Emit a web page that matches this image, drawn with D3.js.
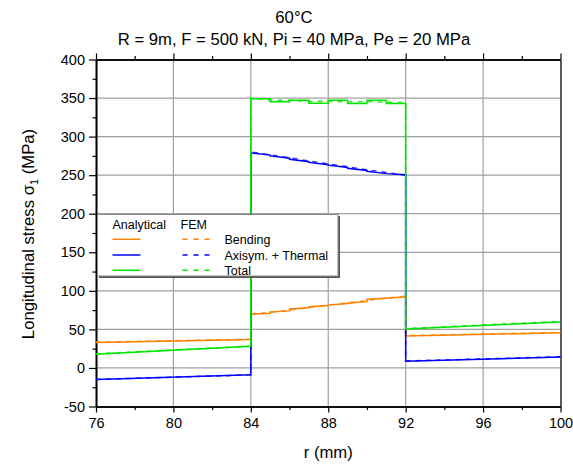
<!DOCTYPE html>
<html><head><meta charset="utf-8">
<script src="https://cdn.jsdelivr.net/npm/d3@7"></script>
<style>
body{margin:0;background:#fff;}
svg{display:block;font-family:"Liberation Sans",Arial,sans-serif;}
</style></head>
<body><svg id="c" width="573" height="467"></svg>
<script>
// ---------- data ----------
const titleLines = ["60\u00B0C", "R = 9m, F = 500 kN, Pi = 40 MPa, Pe = 20 MPa"];
const xTicks = [76, 80, 84, 88, 92, 96, 100];
const yTicks = [-50, 0, 50, 100, 150, 200, 250, 300, 350, 400];
const seriesNames = ["Bending", "Axisym. + Thermal", "Total"];
const seriesColors = ["#ff8000", "#0000ff", "#00e600"];

// Analytical (solid) : [r (mm), sigma (MPa)]
const anaBending = [[76,33],[84,37],[84,69.6],[85,70.8],[85,72.5],[86,74],[86,76.5],[87,78],[87,79.5],[88,81],[88,81.5],[89,83.5],[89,84],[90,86],[90,89],[91,90.5],[92,92.4],[92,41.5],[100,45.5]];
const anaAxisym = [[76,-15],[84,-8.7],[84,279],[85,276],[85,275],[86,272],[86,270.5],[87,267.5],[87,266.5],[88,263.5],[88,263],[89,260],[89,259],[90,256],[90,255],[91,252],[92,250.5],[92,8.6],[100,14.2]];
const anaTotal = [[76,17.7],[84,28],[84,349],[85,349],[85,345.3],[86,345.3],[86,347],[87,347],[87,343.2],[88,343.2],[88,347],[89,347],[89,343],[90,343],[90,347],[91,347],[91,343],[92,343],[92,50.5],[100,59.6]];

// FEM (dashed)
const femBending = [[76,33.5],[84,37.2],[84,70],[85,72],[86,75],[87,78.5],[88,81.5],[89,84.5],[90,87.5],[91,90.5],[92,93],[92,42],[100,46]];
const femAxisym = [[76,-15],[84,-9],[84,280],[85,276.5],[86,272.5],[87,268.5],[88,264.5],[89,261],[90,257],[91,253.5],[92,250],[92,9],[100,14.5]];
const femTotal = [[76,18.5],[84,28.2],[84,350],[85,347.5],[86,347],[87,345.5],[88,346],[89,345],[90,345.5],[91,344.5],[92,344],[92,51],[100,60.5]];

// ---------- layout ----------
const svg = d3.select("#c");
const L = 96, R = 560.5, T = 59.5, B = 406.5;
const x = d3.scaleLinear().domain([76, 100]).range([L, R]);
const y = d3.scaleLinear().domain([-50, 400]).range([B, T]);

// grid
const grid = svg.append("g");
grid.selectAll("line.gx").data(xTicks.slice(1, -1)).join("line")
  .attr("x1", d => x(d)).attr("x2", d => x(d)).attr("y1", T).attr("y2", B)
  .attr("stroke", "#a0a0a0").attr("stroke-width", 1.2);
grid.selectAll("line.gy").data(yTicks.slice(1, -1)).join("line")
  .attr("y1", d => y(d)).attr("y2", d => y(d)).attr("x1", L).attr("x2", R)
  .attr("stroke", "#a0a0a0").attr("stroke-width", 1.2);

// axes
const tickFont = "14.5px";
const xAxisB = d3.axisBottom(x).tickValues(xTicks).tickSize(6).tickPadding(5).tickSizeOuter(0);
const gB = svg.append("g").attr("transform", `translate(0,${B})`).call(xAxisB);
const xMinor = d3.range(78, 100, 4);
const gBm = svg.append("g").attr("transform", `translate(0,${B})`)
  .call(d3.axisBottom(x).tickValues(xMinor).tickSize(3.5).tickFormat("").tickSizeOuter(0));
const gT = svg.append("g").attr("transform", `translate(0,${T})`)
  .call(d3.axisTop(x).tickValues(xTicks).tickSize(6).tickFormat("").tickSizeOuter(0));
const gTm = svg.append("g").attr("transform", `translate(0,${T})`)
  .call(d3.axisTop(x).tickValues(xMinor).tickSize(3.5).tickFormat("").tickSizeOuter(0));
const gL = svg.append("g").attr("transform", `translate(${L},0)`)
  .call(d3.axisLeft(y).tickValues(yTicks).tickSize(7).tickPadding(4).tickSizeOuter(0)
    .tickFormat(d => String(d)));
const yMinor = d3.range(-25, 400, 50);
const gLm = svg.append("g").attr("transform", `translate(${L},0)`)
  .call(d3.axisLeft(y).tickValues(yMinor).tickSize(3.5).tickFormat("").tickSizeOuter(0));
const gR = svg.append("g").attr("transform", `translate(${R},0)`)
  .call(d3.axisRight(y).tickValues([]).tickSizeOuter(0));
[gB, gBm, gT, gTm, gL, gLm, gR].forEach(g => {
  g.select(".domain").attr("stroke", "#000").attr("stroke-width", 1.6);
  g.selectAll(".tick line").attr("stroke", "#000").attr("stroke-width", 1.2);
  g.selectAll("text").attr("font-size", tickFont).attr("fill", "#000")
    .attr("font-family", '"Liberation Sans",Arial,sans-serif');
});
gR.select(".domain").attr("stroke", "#333");

// lines
const line = d3.line().x(d => x(d[0])).y(d => y(d[1]));
const plot = svg.append("g");
const anaData = [anaBending, anaAxisym, anaTotal];
const femData = [femBending, femAxisym, femTotal];
[0, 1, 2].forEach(i => {
  plot.append("path").datum(anaData[i]).attr("d", line)
    .attr("fill", "none").attr("stroke", seriesColors[i]).attr("stroke-width", 1.5);
  plot.append("path").datum(femData[i]).attr("d", line)
    .attr("fill", "none").attr("stroke", seriesColors[i]).attr("stroke-width", 1.5)
    .attr("stroke-dasharray", "5,5").attr("opacity", 0.8);
});

// legend
const lg = svg.append("g");
lg.append("rect").attr("x", 99).attr("y", 216).attr("width", 241).attr("height", 62).attr("fill", "#555");
lg.append("rect").attr("x", 97.5).attr("y", 214.5).attr("width", 240.5).attr("height", 61.5)
  .attr("fill", "#fff").attr("stroke", "#8a8a8a").attr("stroke-width", 1);
lg.append("text").attr("x", 112.5).attr("y", 229).attr("font-size", "12.5px").text("Analytical");
lg.append("text").attr("x", 180.5).attr("y", 229).attr("font-size", "12.5px").text("FEM");
const lgY = [239.3, 255, 270.3];
seriesNames.forEach((n, i) => {
  lg.append("line").attr("x1", 112.5).attr("x2", 140.5).attr("y1", lgY[i]).attr("y2", lgY[i])
    .attr("stroke", seriesColors[i]).attr("stroke-width", 1.5);
  lg.append("line").attr("x1", 182.5).attr("x2", 210).attr("y1", lgY[i]).attr("y2", lgY[i])
    .attr("stroke", seriesColors[i]).attr("stroke-width", 1.5).attr("stroke-dasharray", "5,6");
  lg.append("text").attr("x", 224.5).attr("y", lgY[i] + 4.5).attr("font-size", "12.5px").text(n);
});

// titles
svg.append("text").attr("x", 294).attr("y", 22.5).attr("text-anchor", "middle")
  .attr("font-size", "16.7px").text(titleLines[0]);
svg.append("text").attr("x", 294).attr("y", 45).attr("text-anchor", "middle")
  .attr("font-size", "16.7px").text(titleLines[1]);
svg.append("text").attr("x", (L + R) / 2).attr("y", 458).attr("text-anchor", "middle")
  .attr("font-size", "16.7px").text("r (mm)");
const yl = svg.append("text").attr("transform", `translate(34,234) rotate(-90)`)
  .attr("text-anchor", "middle").attr("font-size", "16.7px");
yl.append("tspan").text("Longitudinal stress \u03C3");
yl.append("tspan").attr("font-size", "11px").attr("dy", 4).text("1");
yl.append("tspan").attr("dy", -4).text(" (MPa)");
</script></body></html>
